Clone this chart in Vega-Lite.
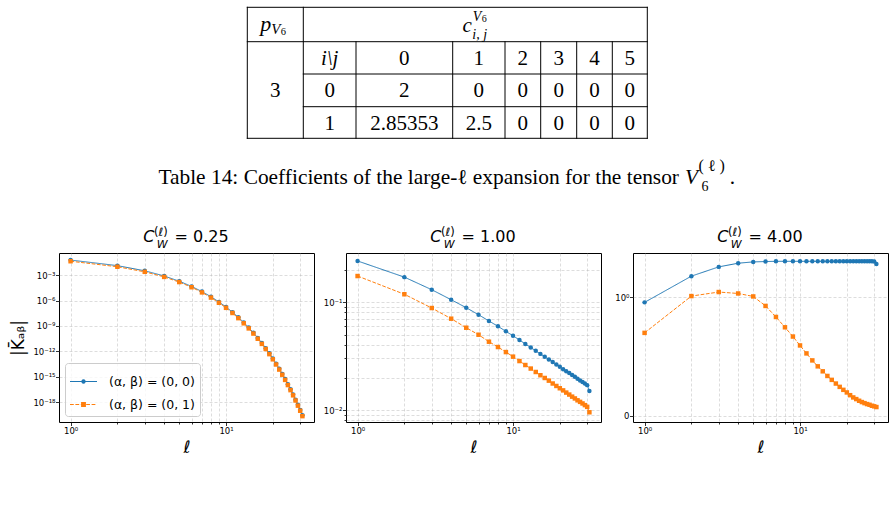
{
"$schema": "https://vega.github.io/schema/vega-lite/v6.json",
"background": "white",
"padding": {"left": 9, "top": 0, "right": 4, "bottom": 4},
"spacing": 20,
"bounds": "flush",
"config": {
 "view": {"stroke": "#000", "strokeWidth": 1},
 "font": "DejaVu Sans",
 "axis": {"domain": false, "tickColor": "#000", "tickWidth": 0.8, "labelFont": "DejaVu Sans", "labelFontSize": 8.5, "labelColor": "#000", "gridColor": "#b0b0b0", "gridOpacity": 0.55, "gridDash": [3, 2], "gridWidth": 0.8, "titleColor": "#000", "titleFont": "DejaVu Sans", "titleFontWeight": "normal"}
},
"datasets": {
 "tableLines": [
  {"x": -0.5, "x2": 7.5, "y": -0.5, "y2": -0.5},
  {"x": -0.5, "x2": 7.5, "y": 0.5, "y2": 0.5},
  {"x": 0.5, "x2": 7.5, "y": 1.5, "y2": 1.5},
  {"x": 0.5, "x2": 7.5, "y": 2.5, "y2": 2.5},
  {"x": -0.5, "x2": 7.5, "y": 3.5, "y2": 3.5},
  {"x": -0.5, "x2": -0.5, "y": -0.5, "y2": 3.5},
  {"x": 0.5, "x2": 0.5, "y": -0.5, "y2": 3.5},
  {"x": 1.5, "x2": 1.5, "y": 0.5, "y2": 3.5},
  {"x": 2.5, "x2": 2.5, "y": 0.5, "y2": 3.5},
  {"x": 3.5, "x2": 3.5, "y": 0.5, "y2": 3.5},
  {"x": 4.5, "x2": 4.5, "y": 0.5, "y2": 3.5},
  {"x": 5.5, "x2": 5.5, "y": 0.5, "y2": 3.5},
  {"x": 6.5, "x2": 6.5, "y": 0.5, "y2": 3.5},
  {"x": 7.5, "x2": 7.5, "y": -0.5, "y2": 3.5}
 ],
 "tableCells": [
  {"r": 1, "c": 2, "t": "0"}, {"r": 1, "c": 3, "t": "1"}, {"r": 1, "c": 4, "t": "2"}, {"r": 1, "c": 5, "t": "3"}, {"r": 1, "c": 6, "t": "4"}, {"r": 1, "c": 7, "t": "5"},
  {"r": 2, "c": 0, "t": "3"},
  {"r": 2, "c": 1, "t": "0"}, {"r": 2, "c": 2, "t": "2"}, {"r": 2, "c": 3, "t": "0"}, {"r": 2, "c": 4, "t": "0"}, {"r": 2, "c": 5, "t": "0"}, {"r": 2, "c": 6, "t": "0"}, {"r": 2, "c": 7, "t": "0"},
  {"r": 3, "c": 1, "t": "1"}, {"r": 3, "c": 2, "t": "2.85353"}, {"r": 3, "c": 3, "t": "2.5"}, {"r": 3, "c": 4, "t": "0"}, {"r": 3, "c": 5, "t": "0"}, {"r": 3, "c": 6, "t": "0"}, {"r": 3, "c": 7, "t": "0"}
 ],
 "tableItalic": [{"r": 1, "c": 1, "t": "i\\j"}],
 "k": [
  {"C":0.25,"l":1,"s":"(0, 0)","K":0.0603},{"C":0.25,"l":2,"s":"(0, 0)","K":0.01318},{"C":0.25,"l":3,"s":"(0, 0)","K":3.236e-3},{"C":0.25,"l":4,"s":"(0, 0)","K":7.943e-4},{"C":0.25,"l":5,"s":"(0, 0)","K":1.905e-4},{"C":0.25,"l":6,"s":"(0, 0)","K":4.677e-5},{"C":0.25,"l":7,"s":"(0, 0)","K":1.148e-5},{"C":0.25,"l":8,"s":"(0, 0)","K":2.818e-6},{"C":0.25,"l":9,"s":"(0, 0)","K":6.918e-7},{"C":0.25,"l":10,"s":"(0, 0)","K":1.738e-7},
  {"C":0.25,"l":11,"s":"(0, 0)","K":4.266e-8},{"C":0.25,"l":12,"s":"(0, 0)","K":1.047e-8},{"C":0.25,"l":13,"s":"(0, 0)","K":2.570e-9},{"C":0.25,"l":14,"s":"(0, 0)","K":6.457e-10},{"C":0.25,"l":15,"s":"(0, 0)","K":1.585e-10},{"C":0.25,"l":16,"s":"(0, 0)","K":3.890e-11},{"C":0.25,"l":17,"s":"(0, 0)","K":9.550e-12},{"C":0.25,"l":18,"s":"(0, 0)","K":2.399e-12},{"C":0.25,"l":19,"s":"(0, 0)","K":5.888e-13},{"C":0.25,"l":20,"s":"(0, 0)","K":1.445e-13},
  {"C":0.25,"l":21,"s":"(0, 0)","K":3.548e-14},{"C":0.25,"l":22,"s":"(0, 0)","K":8.913e-15},{"C":0.25,"l":23,"s":"(0, 0)","K":2.188e-15},{"C":0.25,"l":24,"s":"(0, 0)","K":5.370e-16},{"C":0.25,"l":25,"s":"(0, 0)","K":1.318e-16},{"C":0.25,"l":26,"s":"(0, 0)","K":3.311e-17},{"C":0.25,"l":27,"s":"(0, 0)","K":8.128e-18},{"C":0.25,"l":28,"s":"(0, 0)","K":1.995e-18},{"C":0.25,"l":29,"s":"(0, 0)","K":4.898e-19},{"C":0.25,"l":30,"s":"(0, 0)","K":1.230e-19},{"C":0.25,"l":31,"s":"(0, 0)","K":2.818e-20},
  {"C":0.25,"l":1,"s":"(0, 1)","K":0.04365},{"C":0.25,"l":2,"s":"(0, 1)","K":9.772e-3},{"C":0.25,"l":3,"s":"(0, 1)","K":2.455e-3},{"C":0.25,"l":4,"s":"(0, 1)","K":6.166e-4},{"C":0.25,"l":5,"s":"(0, 1)","K":1.514e-4},{"C":0.25,"l":6,"s":"(0, 1)","K":3.715e-5},{"C":0.25,"l":7,"s":"(0, 1)","K":9.120e-6},{"C":0.25,"l":8,"s":"(0, 1)","K":2.239e-6},{"C":0.25,"l":9,"s":"(0, 1)","K":5.495e-7},{"C":0.25,"l":10,"s":"(0, 1)","K":1.380e-7},
  {"C":0.25,"l":11,"s":"(0, 1)","K":3.388e-8},{"C":0.25,"l":12,"s":"(0, 1)","K":8.318e-9},{"C":0.25,"l":13,"s":"(0, 1)","K":2.042e-9},{"C":0.25,"l":14,"s":"(0, 1)","K":5.129e-10},{"C":0.25,"l":15,"s":"(0, 1)","K":1.259e-10},{"C":0.25,"l":16,"s":"(0, 1)","K":3.090e-11},{"C":0.25,"l":17,"s":"(0, 1)","K":7.586e-12},{"C":0.25,"l":18,"s":"(0, 1)","K":1.905e-12},{"C":0.25,"l":19,"s":"(0, 1)","K":4.677e-13},{"C":0.25,"l":20,"s":"(0, 1)","K":1.148e-13},
  {"C":0.25,"l":21,"s":"(0, 1)","K":2.818e-14},{"C":0.25,"l":22,"s":"(0, 1)","K":7.079e-15},{"C":0.25,"l":23,"s":"(0, 1)","K":1.738e-15},{"C":0.25,"l":24,"s":"(0, 1)","K":4.266e-16},{"C":0.25,"l":25,"s":"(0, 1)","K":1.047e-16},{"C":0.25,"l":26,"s":"(0, 1)","K":2.630e-17},{"C":0.25,"l":27,"s":"(0, 1)","K":6.457e-18},{"C":0.25,"l":28,"s":"(0, 1)","K":1.585e-18},{"C":0.25,"l":29,"s":"(0, 1)","K":3.890e-19},{"C":0.25,"l":30,"s":"(0, 1)","K":9.772e-20},{"C":0.25,"l":31,"s":"(0, 1)","K":2.239e-20},
  {"C":1,"l":1,"s":"(0, 0)","K":0.240},{"C":1,"l":2,"s":"(0, 0)","K":0.170},{"C":1,"l":3,"s":"(0, 0)","K":0.130},{"C":1,"l":4,"s":"(0, 0)","K":0.105},{"C":1,"l":5,"s":"(0, 0)","K":0.0886},{"C":1,"l":6,"s":"(0, 0)","K":0.0763},{"C":1,"l":7,"s":"(0, 0)","K":0.0667},{"C":1,"l":8,"s":"(0, 0)","K":0.0596},{"C":1,"l":9,"s":"(0, 0)","K":0.0535},{"C":1,"l":10,"s":"(0, 0)","K":0.0487},
  {"C":1,"l":11,"s":"(0, 0)","K":0.0445},{"C":1,"l":12,"s":"(0, 0)","K":0.0409},{"C":1,"l":13,"s":"(0, 0)","K":0.0379},{"C":1,"l":14,"s":"(0, 0)","K":0.0353},{"C":1,"l":15,"s":"(0, 0)","K":0.0331},{"C":1,"l":16,"s":"(0, 0)","K":0.0311},{"C":1,"l":17,"s":"(0, 0)","K":0.0293},{"C":1,"l":18,"s":"(0, 0)","K":0.0278},{"C":1,"l":19,"s":"(0, 0)","K":0.0264},{"C":1,"l":20,"s":"(0, 0)","K":0.0251},
  {"C":1,"l":21,"s":"(0, 0)","K":0.0239},{"C":1,"l":22,"s":"(0, 0)","K":0.0229},{"C":1,"l":23,"s":"(0, 0)","K":0.0220},{"C":1,"l":24,"s":"(0, 0)","K":0.0211},{"C":1,"l":25,"s":"(0, 0)","K":0.0203},{"C":1,"l":26,"s":"(0, 0)","K":0.0195},{"C":1,"l":27,"s":"(0, 0)","K":0.0188},{"C":1,"l":28,"s":"(0, 0)","K":0.0182},{"C":1,"l":29,"s":"(0, 0)","K":0.0176},{"C":1,"l":30,"s":"(0, 0)","K":0.0170},{"C":1,"l":31,"s":"(0, 0)","K":0.0150},
  {"C":1,"l":1,"s":"(0, 1)","K":0.174},{"C":1,"l":2,"s":"(0, 1)","K":0.118},{"C":1,"l":3,"s":"(0, 1)","K":0.088},{"C":1,"l":4,"s":"(0, 1)","K":0.0701},{"C":1,"l":5,"s":"(0, 1)","K":0.0578},{"C":1,"l":6,"s":"(0, 1)","K":0.0498},{"C":1,"l":7,"s":"(0, 1)","K":0.0429},{"C":1,"l":8,"s":"(0, 1)","K":0.0383},{"C":1,"l":9,"s":"(0, 1)","K":0.0344},{"C":1,"l":10,"s":"(0, 1)","K":0.0312},
  {"C":1,"l":11,"s":"(0, 1)","K":0.0284},{"C":1,"l":12,"s":"(0, 1)","K":0.0261},{"C":1,"l":13,"s":"(0, 1)","K":0.0242},{"C":1,"l":14,"s":"(0, 1)","K":0.0225},{"C":1,"l":15,"s":"(0, 1)","K":0.0210},{"C":1,"l":16,"s":"(0, 1)","K":0.0198},{"C":1,"l":17,"s":"(0, 1)","K":0.0187},{"C":1,"l":18,"s":"(0, 1)","K":0.0176},{"C":1,"l":19,"s":"(0, 1)","K":0.0167},{"C":1,"l":20,"s":"(0, 1)","K":0.0159},
  {"C":1,"l":21,"s":"(0, 1)","K":0.0152},{"C":1,"l":22,"s":"(0, 1)","K":0.0145},{"C":1,"l":23,"s":"(0, 1)","K":0.0139},{"C":1,"l":24,"s":"(0, 1)","K":0.0133},{"C":1,"l":25,"s":"(0, 1)","K":0.0128},{"C":1,"l":26,"s":"(0, 1)","K":0.0123},{"C":1,"l":27,"s":"(0, 1)","K":0.0119},{"C":1,"l":28,"s":"(0, 1)","K":0.0115},{"C":1,"l":29,"s":"(0, 1)","K":0.0111},{"C":1,"l":30,"s":"(0, 1)","K":0.0107},{"C":1,"l":31,"s":"(0, 1)","K":0.00953},
  {"C":4,"l":1,"s":"(0, 0)","K":0.955},{"C":4,"l":2,"s":"(0, 0)","K":1.176},{"C":4,"l":3,"s":"(0, 0)","K":1.254},{"C":4,"l":4,"s":"(0, 0)","K":1.285},{"C":4,"l":5,"s":"(0, 0)","K":1.296},{"C":4,"l":6,"s":"(0, 0)","K":1.299},{"C":4,"l":7,"s":"(0, 0)","K":1.301},{"C":4,"l":8,"s":"(0, 0)","K":1.301},{"C":4,"l":9,"s":"(0, 0)","K":1.301},{"C":4,"l":10,"s":"(0, 0)","K":1.301},
  {"C":4,"l":11,"s":"(0, 0)","K":1.301},{"C":4,"l":12,"s":"(0, 0)","K":1.301},{"C":4,"l":13,"s":"(0, 0)","K":1.301},{"C":4,"l":14,"s":"(0, 0)","K":1.301},{"C":4,"l":15,"s":"(0, 0)","K":1.301},{"C":4,"l":16,"s":"(0, 0)","K":1.301},{"C":4,"l":17,"s":"(0, 0)","K":1.301},{"C":4,"l":18,"s":"(0, 0)","K":1.301},{"C":4,"l":19,"s":"(0, 0)","K":1.301},{"C":4,"l":20,"s":"(0, 0)","K":1.301},
  {"C":4,"l":21,"s":"(0, 0)","K":1.301},{"C":4,"l":22,"s":"(0, 0)","K":1.301},{"C":4,"l":23,"s":"(0, 0)","K":1.301},{"C":4,"l":24,"s":"(0, 0)","K":1.301},{"C":4,"l":25,"s":"(0, 0)","K":1.301},{"C":4,"l":26,"s":"(0, 0)","K":1.301},{"C":4,"l":27,"s":"(0, 0)","K":1.301},{"C":4,"l":28,"s":"(0, 0)","K":1.301},{"C":4,"l":29,"s":"(0, 0)","K":1.301},{"C":4,"l":30,"s":"(0, 0)","K":1.300},{"C":4,"l":31,"s":"(0, 0)","K":1.279},
  {"C":4,"l":1,"s":"(0, 1)","K":0.698},{"C":4,"l":2,"s":"(0, 1)","K":1.008},{"C":4,"l":3,"s":"(0, 1)","K":1.042},{"C":4,"l":4,"s":"(0, 1)","K":1.030},{"C":4,"l":5,"s":"(0, 1)","K":1.005},{"C":4,"l":6,"s":"(0, 1)","K":0.925},{"C":4,"l":7,"s":"(0, 1)","K":0.832},{"C":4,"l":8,"s":"(0, 1)","K":0.745},{"C":4,"l":9,"s":"(0, 1)","K":0.667},{"C":4,"l":10,"s":"(0, 1)","K":0.592},
  {"C":4,"l":11,"s":"(0, 1)","K":0.525},{"C":4,"l":12,"s":"(0, 1)","K":0.466},{"C":4,"l":13,"s":"(0, 1)","K":0.416},{"C":4,"l":14,"s":"(0, 1)","K":0.374},{"C":4,"l":15,"s":"(0, 1)","K":0.335},{"C":4,"l":16,"s":"(0, 1)","K":0.302},{"C":4,"l":17,"s":"(0, 1)","K":0.271},{"C":4,"l":18,"s":"(0, 1)","K":0.243},{"C":4,"l":19,"s":"(0, 1)","K":0.218},{"C":4,"l":20,"s":"(0, 1)","K":0.196},
  {"C":4,"l":21,"s":"(0, 1)","K":0.173},{"C":4,"l":22,"s":"(0, 1)","K":0.154},{"C":4,"l":23,"s":"(0, 1)","K":0.140},{"C":4,"l":24,"s":"(0, 1)","K":0.126},{"C":4,"l":25,"s":"(0, 1)","K":0.115},{"C":4,"l":26,"s":"(0, 1)","K":0.106},{"C":4,"l":27,"s":"(0, 1)","K":0.098},{"C":4,"l":28,"s":"(0, 1)","K":0.092},{"C":4,"l":29,"s":"(0, 1)","K":0.084},{"C":4,"l":30,"s":"(0, 1)","K":0.079},{"C":4,"l":31,"s":"(0, 1)","K":0.073}
 ]
},
"vconcat": [
 {
  "width": 837, "height": 233,
  "view": {"stroke": null},
  "layer": [
   {"data": {"name": "tableLines"}, "mark": {"type": "rule", "color": "#000", "strokeWidth": 1, "strokeCap": "square"},
    "encoding": {
     "x": {"field": "x", "type": "quantitative", "scale": {"domain": [-0.5, 0.5, 1.5, 2.5, 3.5, 4.5, 5.5, 6.5, 7.5], "range": [188.3, 244.3, 297, 393.7, 446, 481.7, 517.7, 553.3, 588.3], "nice": false, "zero": false}, "axis": null},
     "x2": {"field": "x2"},
     "y": {"field": "y", "type": "quantitative", "scale": {"domain": [-0.5, 0.5, 1.5, 2.5, 3.5, 5], "range": [7.3, 41.7, 74, 106.7, 138.3, 184.3], "nice": false, "zero": false}, "axis": null},
     "y2": {"field": "y2"}}},
   {"data": {"name": "tableCells"}, "mark": {"type": "text", "font": "Liberation Serif", "fontSize": 21, "baseline": "alphabetic", "dy": 7, "color": "#000"},
    "encoding": {"x": {"field": "c", "type": "quantitative"}, "y": {"field": "r", "type": "quantitative"}, "text": {"field": "t"}}},
   {"data": {"name": "tableItalic"}, "mark": {"type": "text", "font": "Liberation Serif", "fontSize": 21, "fontStyle": "italic", "baseline": "alphabetic", "dy": 7, "color": "#000"},
    "encoding": {"x": {"field": "c", "type": "quantitative"}, "y": {"field": "r", "type": "quantitative"}, "text": {"field": "t"}}},
   {"data": {"values": [{}]}, "mark": {"type": "text", "font": "Liberation Serif", "fontSize": 22, "fontStyle": "italic", "align": "right", "baseline": "alphabetic", "dx": -4, "dy": 6.2, "color": "#000"},
    "encoding": {"x": {"datum": 0}, "y": {"datum": 0}, "text": {"value": "p"}}},
   {"data": {"values": [{}]}, "mark": {"type": "text", "font": "Liberation Serif", "fontSize": 15, "fontStyle": "italic", "align": "left", "baseline": "alphabetic", "dx": -4, "dy": 9, "color": "#000"},
    "encoding": {"x": {"datum": 0}, "y": {"datum": 0}, "text": {"value": "V"}}},
   {"data": {"values": [{}]}, "mark": {"type": "text", "font": "Liberation Serif", "fontSize": 10.5, "align": "left", "baseline": "alphabetic", "dx": 5.5, "dy": 10.5, "color": "#000"},
    "encoding": {"x": {"datum": 0}, "y": {"datum": 0}, "text": {"value": "6"}}},
   {"data": {"values": [{}]}, "mark": {"type": "text", "font": "Liberation Serif", "fontSize": 21, "fontStyle": "italic", "align": "right", "baseline": "alphabetic", "dx": -7, "dy": 7.5, "color": "#000"},
    "encoding": {"x": {"datum": 3}, "y": {"datum": 0}, "text": {"value": "c"}}},
   {"data": {"values": [{}]}, "mark": {"type": "text", "font": "Liberation Serif", "fontSize": 14, "fontStyle": "italic", "align": "left", "baseline": "alphabetic", "dx": -6, "dy": -4, "color": "#000"},
    "encoding": {"x": {"datum": 3}, "y": {"datum": 0}, "text": {"value": "V"}}},
   {"data": {"values": [{}]}, "mark": {"type": "text", "font": "Liberation Serif", "fontSize": 10, "align": "left", "baseline": "alphabetic", "dx": 3, "dy": -2.5, "color": "#000"},
    "encoding": {"x": {"datum": 3}, "y": {"datum": 0}, "text": {"value": "6"}}},
   {"data": {"values": [{}]}, "mark": {"type": "text", "font": "Liberation Serif", "fontSize": 14, "fontStyle": "italic", "align": "left", "baseline": "alphabetic", "dx": -6.5, "dy": 14, "color": "#000"},
    "encoding": {"x": {"datum": 3}, "y": {"datum": 0}, "text": {"value": "i, j"}}},
   {"data": {"values": [{}]}, "mark": {"type": "text", "font": "Liberation Serif", "fontSize": 21.4, "align": "right", "baseline": "alphabetic", "dx": 31.7, "color": "#000"},
    "encoding": {"x": {"datum": 7.5}, "y": {"datum": 5}, "text": {"value": "Table 14: Coefficients of the large-ℓ expansion for the tensor"}}},
   {"data": {"values": [{}]}, "mark": {"type": "text", "font": "Liberation Serif", "fontSize": 21.4, "fontStyle": "italic", "align": "left", "baseline": "alphabetic", "dx": 37.7, "color": "#000"},
    "encoding": {"x": {"datum": 7.5}, "y": {"datum": 5}, "text": {"value": "V"}}},
   {"data": {"values": [{}]}, "mark": {"type": "text", "font": "Liberation Serif", "fontSize": 16, "align": "left", "baseline": "alphabetic", "dx": 51.2, "dy": -13, "color": "#000"},
    "encoding": {"x": {"datum": 7.5}, "y": {"datum": 5}, "text": {"value": "( ℓ )"}}},
   {"data": {"values": [{}]}, "mark": {"type": "text", "font": "Liberation Serif", "fontSize": 14, "align": "left", "baseline": "alphabetic", "dx": 54.2, "dy": 6.7, "color": "#000"},
    "encoding": {"x": {"datum": 7.5}, "y": {"datum": 5}, "text": {"value": "6"}}},
   {"data": {"values": [{}]}, "mark": {"type": "text", "font": "Liberation Serif", "fontSize": 21.4, "align": "left", "baseline": "alphabetic", "dx": 82.5, "color": "#000"},
    "encoding": {"x": {"datum": 7.5}, "y": {"datum": 5}, "text": {"value": "."}}}
  ]
 },
 {
  "hconcat": [
   {
    "width": 255, "height": 169,
    "data": {"name": "k"},
    "layer": [
     {"transform": [{"filter": "datum.C == 0.25"}], "mark": {"type": "line", "strokeWidth": 1},
      "encoding": {
       "x": {"field": "l", "type": "quantitative", "scale": {"type": "log", "domain": [0.8423, 36.81], "nice": false},
        "axis": {"title": "ℓ", "titleFontSize": 17, "titleFontStyle": "italic", "titlePadding": 5, "values": [1,2,3,4,5,6,7,8,9,10,20,30], "labelExpr": "datum.value == 1 ? '10⁰' : (datum.value == 10 ? '10¹' : '')", "tickSize": {"condition": {"test": "datum.value == 1 || datum.value == 10", "value": 3.5}, "value": 2}, "labelOverlap": false, "labelFlush": false, "labelPadding": 0.5, "grid": true}},
       "y": {"field": "K", "type": "quantitative", "scale": {"type": "log", "domain": [4.57e-21, 0.41], "nice": false},
        "axis": {"title": "|K̄ₐᵦ|", "titleFontSize": 17, "titlePadding": 5, "values": [1e-18, 1e-15, 1e-12, 1e-9, 1e-6, 1e-3], "labelExpr": "datum.value < 1e-16 ? '10⁻¹⁸' : (datum.value < 1e-13 ? '10⁻¹⁵' : (datum.value < 1e-10 ? '10⁻¹²' : (datum.value < 1e-7 ? '10⁻⁹' : (datum.value < 1e-4 ? '10⁻⁶' : '10⁻³'))))", "tickSize": 3.5, "labelPadding": 0.5, "labelOverlap": false, "grid": true}},
       "color": {"field": "s", "type": "nominal", "scale": {"domain": ["(0, 0)", "(0, 1)"], "range": ["#1f77b4", "#ff7f0e"]},
        "legend": {"title": null, "orient": "bottom-left", "offset": 6, "fillColor": "rgba(255,255,255,0.8)", "strokeColor": "#cccccc", "cornerRadius": 3, "padding": 5, "labelFont": "DejaVu Sans", "labelFontSize": 12.5, "labelColor": "#000", "labelOffset": 12, "rowPadding": 3, "symbolSize": 729, "labelExpr": "'(α, β) = ' + datum.label",
         "encode": {"symbols": {"update": {
          "shape": {"signal": "datum.value == '(0, 0)' ? 'M-1,-0.037H1V0.037H-1ZM0.165,0L0.143,0.0825L0.0825,0.143L0,0.165L-0.0825,0.143L-0.143,0.0825L-0.165,0L-0.143,-0.0825L-0.0825,-0.143L0,-0.165L0.0825,-0.143L0.143,-0.0825Z' : 'M-1,-0.037H-0.72V0.037H-1ZM-0.6,-0.037H-0.32V0.037H-0.6ZM-0.2,-0.037H0.08V0.037H-0.2ZM0.2,-0.037H0.48V0.037H0.2ZM0.6,-0.037H0.88V0.037H0.6ZM-0.18,-0.18H0.18V0.18H-0.18Z'"},
          "fill": {"signal": "datum.value == '(0, 0)' ? '#1f77b4' : '#ff7f0e'"},
          "stroke": {"value": "transparent"},
          "strokeWidth": {"value": 0}, "size": {"value": 729}, "opacity": {"value": 1}, "fillOpacity": {"value": 1}}}}}},
       "strokeDash": {"field": "s", "type": "nominal", "scale": {"domain": ["(0, 0)", "(0, 1)"], "range": [[1, 0], [3.7, 1.6]]}, "legend": null}}},
     {"transform": [{"filter": "datum.C == 0.25 && datum.s == '(0, 0)'"}], "mark": {"type": "point", "shape": "circle", "filled": true, "size": 20, "opacity": 1, "color": "#1f77b4"},
      "encoding": {"x": {"field": "l", "type": "quantitative"}, "y": {"field": "K", "type": "quantitative"}}},
     {"transform": [{"filter": "datum.C == 0.25 && datum.s == '(0, 1)'"}], "mark": {"type": "point", "shape": "square", "filled": true, "size": 20, "opacity": 1, "color": "#ff7f0e"},
      "encoding": {"x": {"field": "l", "type": "quantitative"}, "y": {"field": "K", "type": "quantitative"}}},
     {"data": {"values": [{}]}, "mark": {"type": "text", "clip": false, "font": "DejaVu Sans", "fontSize": 16, "fontStyle": "italic", "align": "left", "baseline": "alphabetic", "dx": -43.2, "dy": -11.3, "color": "#000"},
      "encoding": {"x": {"datum": 5.568, "type": "quantitative"}, "y": {"datum": 0.41, "type": "quantitative"}, "text": {"value": "C"}}},
     {"data": {"values": [{}]}, "mark": {"type": "text", "clip": false, "font": "DejaVu Sans", "fontSize": 11, "fontStyle": "italic", "align": "left", "baseline": "alphabetic", "dx": -29.8, "dy": -4.7, "color": "#000"},
      "encoding": {"x": {"datum": 5.568, "type": "quantitative"}, "y": {"datum": 0.41, "type": "quantitative"}, "text": {"value": "W"}}},
     {"data": {"values": [{}]}, "mark": {"type": "text", "clip": false, "font": "DejaVu Sans", "fontSize": 11.5, "align": "left", "baseline": "alphabetic", "dx": -32.5, "dy": -17, "color": "#000"},
      "encoding": {"x": {"datum": 5.568, "type": "quantitative"}, "y": {"datum": 0.41, "type": "quantitative"}, "text": {"value": "(ℓ)"}}},
     {"data": {"values": [{}]}, "mark": {"type": "text", "clip": false, "font": "DejaVu Sans", "fontSize": 16, "align": "left", "baseline": "alphabetic", "dx": -12, "dy": -11.3, "color": "#000"},
      "encoding": {"x": {"datum": 5.568, "type": "quantitative"}, "y": {"datum": 0.41, "type": "quantitative"}, "text": {"value": "= 0.25"}}}
    ]
   },
   {
    "width": 255, "height": 169,
    "data": {"name": "k"},
    "layer": [
     {"transform": [{"filter": "datum.C == 1"}], "mark": {"type": "line", "strokeWidth": 1},
      "encoding": {
       "x": {"field": "l", "type": "quantitative", "scale": {"type": "log", "domain": [0.8423, 36.81], "nice": false},
        "axis": {"title": "ℓ", "titleFontSize": 17, "titleFontStyle": "italic", "titlePadding": 5, "values": [1,2,3,4,5,6,7,8,9,10,20,30], "labelExpr": "datum.value == 1 ? '10⁰' : (datum.value == 10 ? '10¹' : '')", "tickSize": {"condition": {"test": "datum.value == 1 || datum.value == 10", "value": 3.5}, "value": 2}, "labelOverlap": false, "labelFlush": false, "labelPadding": 0.5, "grid": true}},
       "y": {"field": "K", "type": "quantitative", "scale": {"type": "log", "domain": [0.007745, 0.2844], "nice": false},
        "axis": {"title": null, "values": [0.008, 0.009, 0.01, 0.02, 0.03, 0.04, 0.05, 0.06, 0.07, 0.08, 0.09, 0.1, 0.2], "labelExpr": "datum.value == 0.01 ? '10⁻²' : (datum.value == 0.1 ? '10⁻¹' : '')", "tickSize": {"condition": {"test": "datum.value == 0.01 || datum.value == 0.1", "value": 3.5}, "value": 2}, "labelPadding": 0.5, "labelOverlap": false, "grid": true}},
       "color": {"field": "s", "type": "nominal", "scale": {"domain": ["(0, 0)", "(0, 1)"], "range": ["#1f77b4", "#ff7f0e"]}, "legend": null},
       "strokeDash": {"field": "s", "type": "nominal", "scale": {"domain": ["(0, 0)", "(0, 1)"], "range": [[1, 0], [3.7, 1.6]]}, "legend": null}}},
     {"transform": [{"filter": "datum.C == 1 && datum.s == '(0, 0)'"}], "mark": {"type": "point", "shape": "circle", "filled": true, "size": 20, "opacity": 1, "color": "#1f77b4"},
      "encoding": {"x": {"field": "l", "type": "quantitative"}, "y": {"field": "K", "type": "quantitative"}}},
     {"transform": [{"filter": "datum.C == 1 && datum.s == '(0, 1)'"}], "mark": {"type": "point", "shape": "square", "filled": true, "size": 20, "opacity": 1, "color": "#ff7f0e"},
      "encoding": {"x": {"field": "l", "type": "quantitative"}, "y": {"field": "K", "type": "quantitative"}}},
     {"data": {"values": [{}]}, "mark": {"type": "text", "clip": false, "font": "DejaVu Sans", "fontSize": 16, "fontStyle": "italic", "align": "left", "baseline": "alphabetic", "dx": -43.2, "dy": -11.3, "color": "#000"},
      "encoding": {"x": {"datum": 5.568, "type": "quantitative"}, "y": {"datum": 0.2844, "type": "quantitative"}, "text": {"value": "C"}}},
     {"data": {"values": [{}]}, "mark": {"type": "text", "clip": false, "font": "DejaVu Sans", "fontSize": 11, "fontStyle": "italic", "align": "left", "baseline": "alphabetic", "dx": -29.8, "dy": -4.7, "color": "#000"},
      "encoding": {"x": {"datum": 5.568, "type": "quantitative"}, "y": {"datum": 0.2844, "type": "quantitative"}, "text": {"value": "W"}}},
     {"data": {"values": [{}]}, "mark": {"type": "text", "clip": false, "font": "DejaVu Sans", "fontSize": 11.5, "align": "left", "baseline": "alphabetic", "dx": -32.5, "dy": -17, "color": "#000"},
      "encoding": {"x": {"datum": 5.568, "type": "quantitative"}, "y": {"datum": 0.2844, "type": "quantitative"}, "text": {"value": "(ℓ)"}}},
     {"data": {"values": [{}]}, "mark": {"type": "text", "clip": false, "font": "DejaVu Sans", "fontSize": 16, "align": "left", "baseline": "alphabetic", "dx": -12, "dy": -11.3, "color": "#000"},
      "encoding": {"x": {"datum": 5.568, "type": "quantitative"}, "y": {"datum": 0.2844, "type": "quantitative"}, "text": {"value": "= 1.00"}}}
    ]
   },
   {
    "width": 255, "height": 169,
    "data": {"name": "k"},
    "layer": [
     {"transform": [{"filter": "datum.C == 4"}], "mark": {"type": "line", "strokeWidth": 1},
      "encoding": {
       "x": {"field": "l", "type": "quantitative", "scale": {"type": "log", "domain": [0.8423, 36.81], "nice": false},
        "axis": {"title": "ℓ", "titleFontSize": 17, "titleFontStyle": "italic", "titlePadding": 5, "values": [1,2,3,4,5,6,7,8,9,10,20,30], "labelExpr": "datum.value == 1 ? '10⁰' : (datum.value == 10 ? '10¹' : '')", "tickSize": {"condition": {"test": "datum.value == 1 || datum.value == 10", "value": 3.5}, "value": 2}, "labelOverlap": false, "labelFlush": false, "labelPadding": 0.5, "grid": true}},
       "y": {"field": "K", "type": "quantitative", "scale": {"type": "linear", "domain": [-0.053, 1.371], "nice": false, "zero": false},
        "axis": {"title": null, "values": [0, 1], "labelExpr": "datum.value == 0 ? '0' : '10⁰'", "tickSize": 3.5, "labelPadding": 0.5, "labelOverlap": false, "grid": true}},
       "color": {"field": "s", "type": "nominal", "scale": {"domain": ["(0, 0)", "(0, 1)"], "range": ["#1f77b4", "#ff7f0e"]}, "legend": null},
       "strokeDash": {"field": "s", "type": "nominal", "scale": {"domain": ["(0, 0)", "(0, 1)"], "range": [[1, 0], [3.7, 1.6]]}, "legend": null}}},
     {"transform": [{"filter": "datum.C == 4 && datum.s == '(0, 0)'"}], "mark": {"type": "point", "shape": "circle", "filled": true, "size": 20, "opacity": 1, "color": "#1f77b4"},
      "encoding": {"x": {"field": "l", "type": "quantitative"}, "y": {"field": "K", "type": "quantitative"}}},
     {"transform": [{"filter": "datum.C == 4 && datum.s == '(0, 1)'"}], "mark": {"type": "point", "shape": "square", "filled": true, "size": 20, "opacity": 1, "color": "#ff7f0e"},
      "encoding": {"x": {"field": "l", "type": "quantitative"}, "y": {"field": "K", "type": "quantitative"}}},
     {"data": {"values": [{}]}, "mark": {"type": "text", "clip": false, "font": "DejaVu Sans", "fontSize": 16, "fontStyle": "italic", "align": "left", "baseline": "alphabetic", "dx": -43.2, "dy": -11.3, "color": "#000"},
      "encoding": {"x": {"datum": 5.568, "type": "quantitative"}, "y": {"datum": 1.371, "type": "quantitative"}, "text": {"value": "C"}}},
     {"data": {"values": [{}]}, "mark": {"type": "text", "clip": false, "font": "DejaVu Sans", "fontSize": 11, "fontStyle": "italic", "align": "left", "baseline": "alphabetic", "dx": -29.8, "dy": -4.7, "color": "#000"},
      "encoding": {"x": {"datum": 5.568, "type": "quantitative"}, "y": {"datum": 1.371, "type": "quantitative"}, "text": {"value": "W"}}},
     {"data": {"values": [{}]}, "mark": {"type": "text", "clip": false, "font": "DejaVu Sans", "fontSize": 11.5, "align": "left", "baseline": "alphabetic", "dx": -32.5, "dy": -17, "color": "#000"},
      "encoding": {"x": {"datum": 5.568, "type": "quantitative"}, "y": {"datum": 1.371, "type": "quantitative"}, "text": {"value": "(ℓ)"}}},
     {"data": {"values": [{}]}, "mark": {"type": "text", "clip": false, "font": "DejaVu Sans", "fontSize": 16, "align": "left", "baseline": "alphabetic", "dx": -12, "dy": -11.3, "color": "#000"},
      "encoding": {"x": {"datum": 5.568, "type": "quantitative"}, "y": {"datum": 1.371, "type": "quantitative"}, "text": {"value": "= 4.00"}}}
    ]
   }
  ],
  "spacing": 32,
  "bounds": "flush",
  "resolve": {"scale": {"color": "independent", "strokeDash": "independent"}, "legend": {"color": "independent", "strokeDash": "independent"}}
 }
]
}
